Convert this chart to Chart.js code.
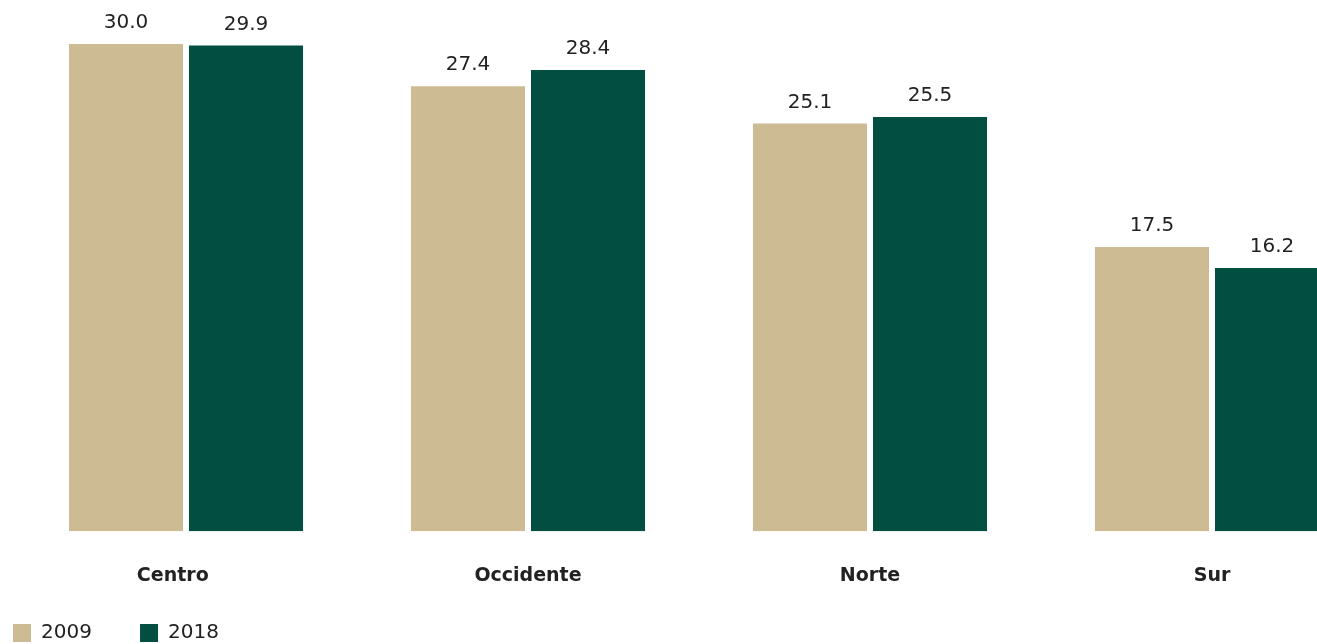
<!DOCTYPE html>
<html>
<head>
<meta charset="utf-8">
<script src="https://cdn.jsdelivr.net/npm/chart.js@4"></script>
<style>
  html, body { margin: 0; padding: 0; background: #fff; overflow: hidden; }
  #wrap { position: relative; width: 1400px; height: 653px; }
</style>
</head>
<body>
<div id="wrap"><canvas id="regionChart"></canvas></div>
<script>
// regions and shares for each year
const regions = ["Centro", "Occidente", "Norte", "Sur"];
const values2009 = [30.0, 27.4, 25.1, 17.5];
const values2018 = [29.9, 28.4, 25.5, 16.2];
const seriesNames = ["2009", "2018"];

const tan = "#CDBC93";
const green = "#024E40";

// draw the number above each bar
const valueLabels = {
  id: "valueLabels",
  afterDatasetsDraw(chart) {
    const ctx = chart.ctx;
    ctx.save();
    ctx.font = "20px 'DejaVu Sans'";
    ctx.fillStyle = "#222";
    ctx.textAlign = "center";
    ctx.textBaseline = "bottom";
    chart.data.datasets.forEach((ds, i) => {
      chart.getDatasetMeta(i).data.forEach((bar, j) => {
        ctx.fillText(ds.data[j].toFixed(1), bar.x, bar.y - 11);
      });
    });
    ctx.restore();
  }
};

const ctx = document.getElementById("regionChart").getContext("2d");
new Chart(ctx, {
  type: "bar",
  data: {
    labels: regions,
    datasets: [
      { label: seriesNames[0], data: values2009, backgroundColor: tan },
      { label: seriesNames[1], data: values2018, backgroundColor: green }
    ]
  },
  options: {
    responsive: true,
    maintainAspectRatio: false,
    animation: false,
    categoryPercentage: 0.702,
    barPercentage: 0.95,
    layout: { padding: { top: 44, left: 3, right: 17, bottom: 0 } },
    plugins: {
      legend: {
        position: "bottom",
        align: "start",
        labels: {
          boxWidth: 18,
          boxHeight: 18,
          padding: 10,
          color: "#222",
          font: { family: "'DejaVu Sans'", size: 20 },
          // extra gap between the two legend entries
          generateLabels(chart) {
            const items = Chart.defaults.plugins.legend.labels.generateLabels(chart);
            items.forEach(it => { it.text = it.text + "      "; });
            return items;
          }
        }
      },
      tooltip: { enabled: false }
    },
    scales: {
      x: {
        grid: { display: false },
        border: { display: false },
        ticks: {
          color: "#222",
          padding: 25.5,
          font: { family: "'DejaVu Sans'", size: 19, weight: "bold" },
          // first label sits a bit left of its bars in the original
          callback(value, index) {
            const name = this.getLabelForValue(value);
            return index === 0 ? name + "    " : name;
          }
        }
      },
      y: {
        min: 0,
        max: 30,
        grid: { display: false },
        border: { display: false },
        ticks: { display: false },
        afterFit(scale) { scale.width = 12; }
      }
    }
  },
  plugins: [valueLabels]
});
</script>
</body>
</html>
